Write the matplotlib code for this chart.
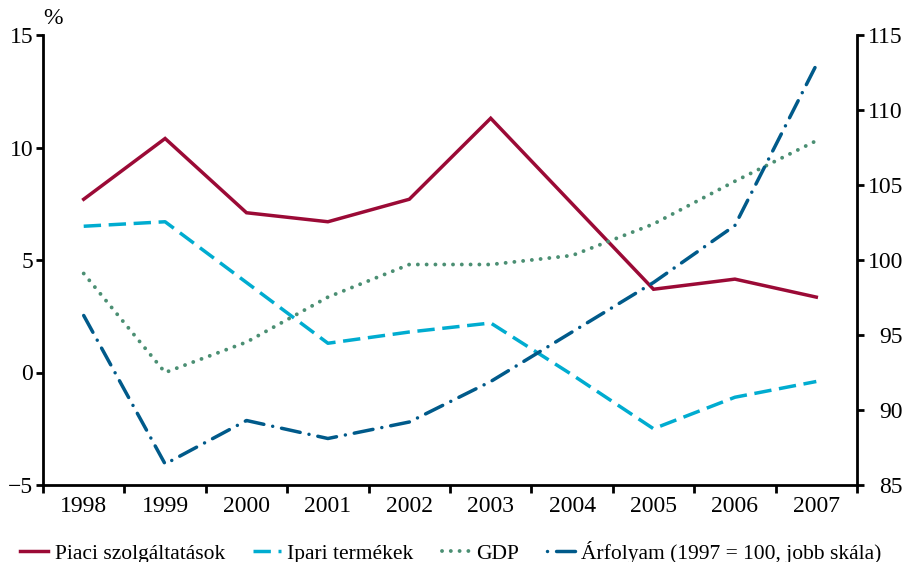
import matplotlib
matplotlib.use("Agg")
import matplotlib.pyplot as plt
from matplotlib.lines import Line2D
from matplotlib.ticker import FixedLocator

plt.rcParams['font.family'] = ['Liberation Serif', 'DejaVu Serif']
plt.rcParams['axes.unicode_minus'] = True

years = ['1998', '1999', '2000', '2001', '2002', '2003', '2004', '2005', '2006', '2007']
piaci = [7.7, 10.4, 7.1, 6.7, 7.7, 11.3, 7.5, 3.7, 4.15, 3.35]
ipari = [6.5, 6.7, 4.0, 1.3, 1.8, 2.2, -0.1, -2.5, -1.1, -0.4]
gdp = [4.4, 0.0, 1.35, 3.35, 4.8, 4.8, 5.2, 6.6, 8.5, 10.3]
arfolyam = [96.3, 86.4, 89.3, 88.1, 89.2, 91.9, 95.2, 98.5, 102.3, 113.0]

left_ticks = [-5, 0, 5, 10, 15]
right_ticks = [85, 90, 95, 100, 105, 110, 115]

c_red = '#9b0a36'
c_light = '#00acd0'
c_green = '#4b8f73'
c_dark = '#005a8a'

fs_tick = 17
fs_leg = 15.5
lw = 2.5
dashdot = (5.5, 2.6, 0.01, 2.6)

fig = plt.figure(figsize=(9.02, 5.62), dpi=100)
ax = fig.add_axes([43 / 902, 1 - 485 / 562, (857 - 43) / 902, (485 - 35) / 562])
ax2 = ax.twinx()

x = list(range(len(years)))

l1, = ax.plot(x, piaci, color=c_red, lw=lw, solid_joinstyle='miter',
              label='Piaci szolgáltatások')
l2, = ax.plot(x, ipari, color=c_light, lw=lw, linestyle=(0, (5, 2.2)),
              dash_capstyle='butt', label='Ipari termékek')
l3, = ax.plot(x, gdp, color=c_green, lw=2.8, linestyle=(0, (0.01, 2.25)),
              dash_capstyle='round', label='GDP')
l4, = ax2.plot(x, arfolyam, color=c_dark, lw=lw, linestyle=(0, dashdot),
               dash_capstyle='round', label='Árfolyam (1997 = 100, jobb skála)')

# legend key for the exchange rate starts on the dot, then the dash
l4_key = Line2D([], [], color=c_dark, lw=lw, dash_capstyle='round',
                linestyle=(dashdot[0] + dashdot[1], dashdot),
                label=l4.get_label())

ax.set_xlim(-0.5, len(years) - 0.5)
ax.set_ylim(-5, 15)
ax2.set_ylim(85, 115)

ax.xaxis.set_major_locator(FixedLocator([i - 0.5 for i in range(len(years) + 1)]))
ax.set_xticklabels([''] * (len(years) + 1))
ax.set_xticks(x, minor=True)
ax.set_xticklabels(years, minor=True)
ax.tick_params(axis='x', which='minor', length=0, pad=8, labelsize=fs_tick)
ax.tick_params(axis='x', which='major', direction='out', length=6, width=2)

ax.set_yticks(left_ticks)
ax.set_yticklabels(['\u22125' if v < 0 else str(v) for v in left_ticks])
ax.tick_params(axis='y', direction='out', length=5, width=2, pad=2, labelsize=fs_tick)

ax2.set_yticks(right_ticks)
ax2.set_yticklabels([str(v) for v in right_ticks])
ax2.tick_params(axis='y', direction='out', length=5, width=2, pad=28, labelsize=fs_tick)
for t in ax2.get_yticklabels():
    t.set_horizontalalignment('right')

for a in (ax, ax2):
    a.spines['top'].set_visible(False)
    for s in ('left', 'right', 'bottom'):
        a.spines[s].set_linewidth(2)
ax.spines['right'].set_visible(False)
ax2.spines['left'].set_visible(False)
ax2.spines['bottom'].set_visible(False)

fig.text(43 / 902, 1 - 19 / 562, '%', fontsize=fs_tick, ha='left', va='center')

fig.legend(handles=[l1, l2, l3, l4_key], loc='lower center', bbox_to_anchor=(0.5, -0.018),
           ncol=4, frameon=False, fontsize=fs_leg, handlelength=1.3, handletextpad=0.3,
           columnspacing=1.3, borderaxespad=0)

fig.savefig('out.png', dpi=100)
